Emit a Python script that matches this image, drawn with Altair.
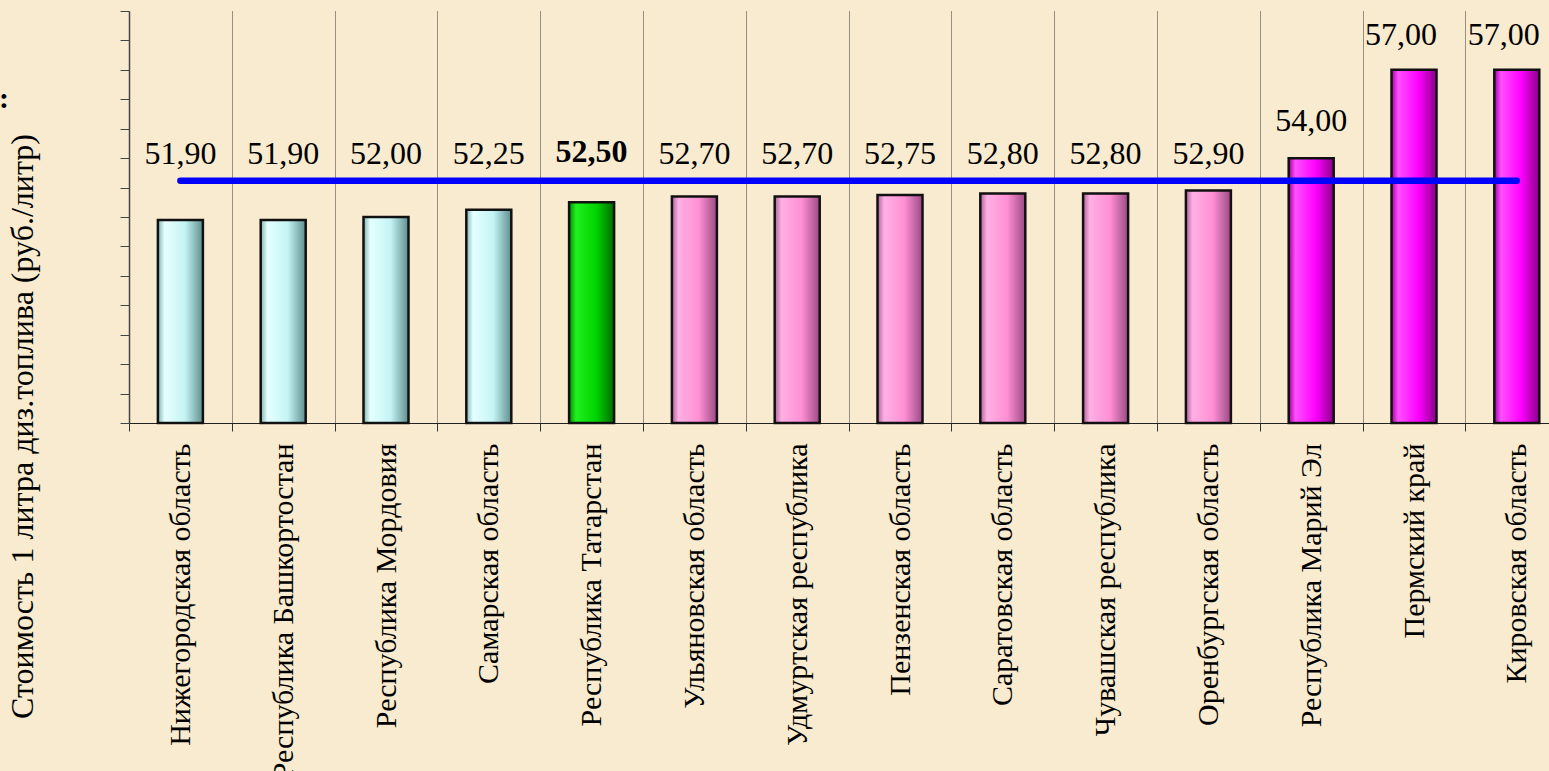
import altair as alt
import pandas as pd

regions = [
    "Нижегородская область", "Республика Башкортостан", "Республика Мордовия",
    "Самарская область", "Республика  Татарстан", "Ульяновская область",
    "Удмуртская республика", "Пензенская область", "Саратовская область",
    "Чувашская республика", "Оренбургская область", "Республика Марий Эл",
    "Пермский край", "Кировская область",
]
prices = [51.90, 51.90, 52.00, 52.25, 52.50, 52.70, 52.70, 52.75, 52.80,
          52.80, 52.90, 54.00, 57.00, 57.00]
groups = ["ниже", "ниже", "ниже", "ниже", "Татарстан", "выше", "выше", "выше",
          "выше", "выше", "выше", "max", "max", "max"]
highlight = "Республика  Татарстан"
y_title = "Стоимость 1 литра диз.топлива  (руб./литр)"
y_ticks = [45, 46, 47, 48, 49, 50, 51, 52, 53, 54, 55, 56, 57, 58, 59]

df = pd.DataFrame({"region": regions, "price": prices, "group": groups})

FONT = "Liberation Serif"
band = 102.8
n_total_range = band * len(regions)

x_enc = alt.X(
    "region:N", sort=regions, title=None,
    scale=alt.Scale(range=[0, n_total_range], paddingInner=0, paddingOuter=0),
    axis=alt.Axis(
        labelAngle=-90, labelFont=FONT, labelFontSize=30, labelColor="black",
        labelPadding=12, labelLimit=0, tickBand="extent", tickSize=8,
        tickColor="#333", domainColor="#222", domainWidth=1.2,
        grid=True, gridColor="#333", gridDash=[1, 1], gridWidth=1,
    ),
)
y_scale = alt.Scale(domain=[45, 59], nice=False, zero=False)
y_axis = alt.Axis(
    values=y_ticks, labels=False, tickSize=9, tickColor="#444", tickCount=15,
    domainColor="#444", domainWidth=1.5, grid=False,
    title=y_title, titleFont=FONT, titleFontSize=32, titleFontWeight="normal",
    titleColor="black", titleAngle=270, titleX=-107, titleY=415,
    titleAlign="center", titleBaseline="middle",
)


def y_of(field):
    return alt.Y(field, scale=y_scale, axis=y_axis)


base = alt.Chart(df)

styles = {
    "ниже": ("#7FB4B4", "#E6FFFF", "#C4F4F4", "#5F8E8E"),
    "Татарстан": ("#008A00", "#20F020", "#00D400", "#006A00"),
    "выше": ("#B0609A", "#FFB0E4", "#FF8FD4", "#9A4A84"),
    "max": ("#A000A0", "#FF50FF", "#FF00FF", "#880088"),
}

bar_layers = []
for g, (c0, c1, c2, c3) in styles.items():
    grad = alt.Gradient(
        gradient="linear", x1=0, x2=1, y1=0, y2=0,
        stops=[alt.GradientStop(offset=0, color=c0),
               alt.GradientStop(offset=0.15, color=c1),
               alt.GradientStop(offset=0.6, color=c2),
               alt.GradientStop(offset=1, color=c3)],
    )
    layer = base.transform_filter(alt.datum.group == g).mark_bar(
        size=45, color=grad, stroke="#111", strokeWidth=2.5
    ).encode(
        x=x_enc,
        y=y_of("price:Q"),
        y2=alt.datum(45),
    )
    bar_layers.append(layer)

mean_line = base.transform_joinaggregate(
    mean_price="mean(price)"
).mark_line(color="#0000FF", strokeWidth=6.5, strokeCap="round").encode(
    x=x_enc, y=y_of("mean_price:Q")
)

label_base = base.transform_joinaggregate(
    mean_price="mean(price)"
).transform_calculate(
    label_pos="datum.price >= datum.mean_price ? datum.price + 0.35 : datum.mean_price",
    label="replace(format(datum.price, '.2f'), '.', ',')",
)

labels = label_base.transform_filter(
    (alt.datum.region != highlight) & (alt.datum.price < 57)
).mark_text(
    font=FONT, fontSize=32, color="black", baseline="bottom", dy=-10
).encode(x=x_enc, y=y_of("label_pos:Q"), text="label:N")

labels_top = label_base.transform_filter(alt.datum.price >= 57).mark_text(
    font=FONT, fontSize=32, color="black", baseline="bottom", dy=-8, dx=-13
).encode(x=x_enc, y=y_of("label_pos:Q"), text="label:N")

labels_bold = label_base.transform_filter(alt.datum.region == highlight).mark_text(
    font=FONT, fontSize=32, fontWeight="bold", color="black", baseline="bottom", dy=-12
).encode(x=x_enc, y=y_of("label_pos:Q"), text="label:N")

colon = alt.Chart(pd.DataFrame({"t": [":"]})).mark_text(
    font=FONT, fontSize=30, fontWeight="bold", color="black", align="center", baseline="middle"
).encode(x=alt.value(-125), y=alt.value(88), text="t:N")

chart = alt.layer(*bar_layers, mean_line, labels, labels_top, labels_bold, colon).properties(
    width=1420, height=412,
    autosize=alt.AutoSizeParams(type="none"),
    padding={"left": 129, "top": 11, "right": 0, "bottom": 348},
    background="#F8EBCF",
).configure_view(stroke=None)

chart.save("out.html", embed_options={"renderer": "svg", "actions": False})
